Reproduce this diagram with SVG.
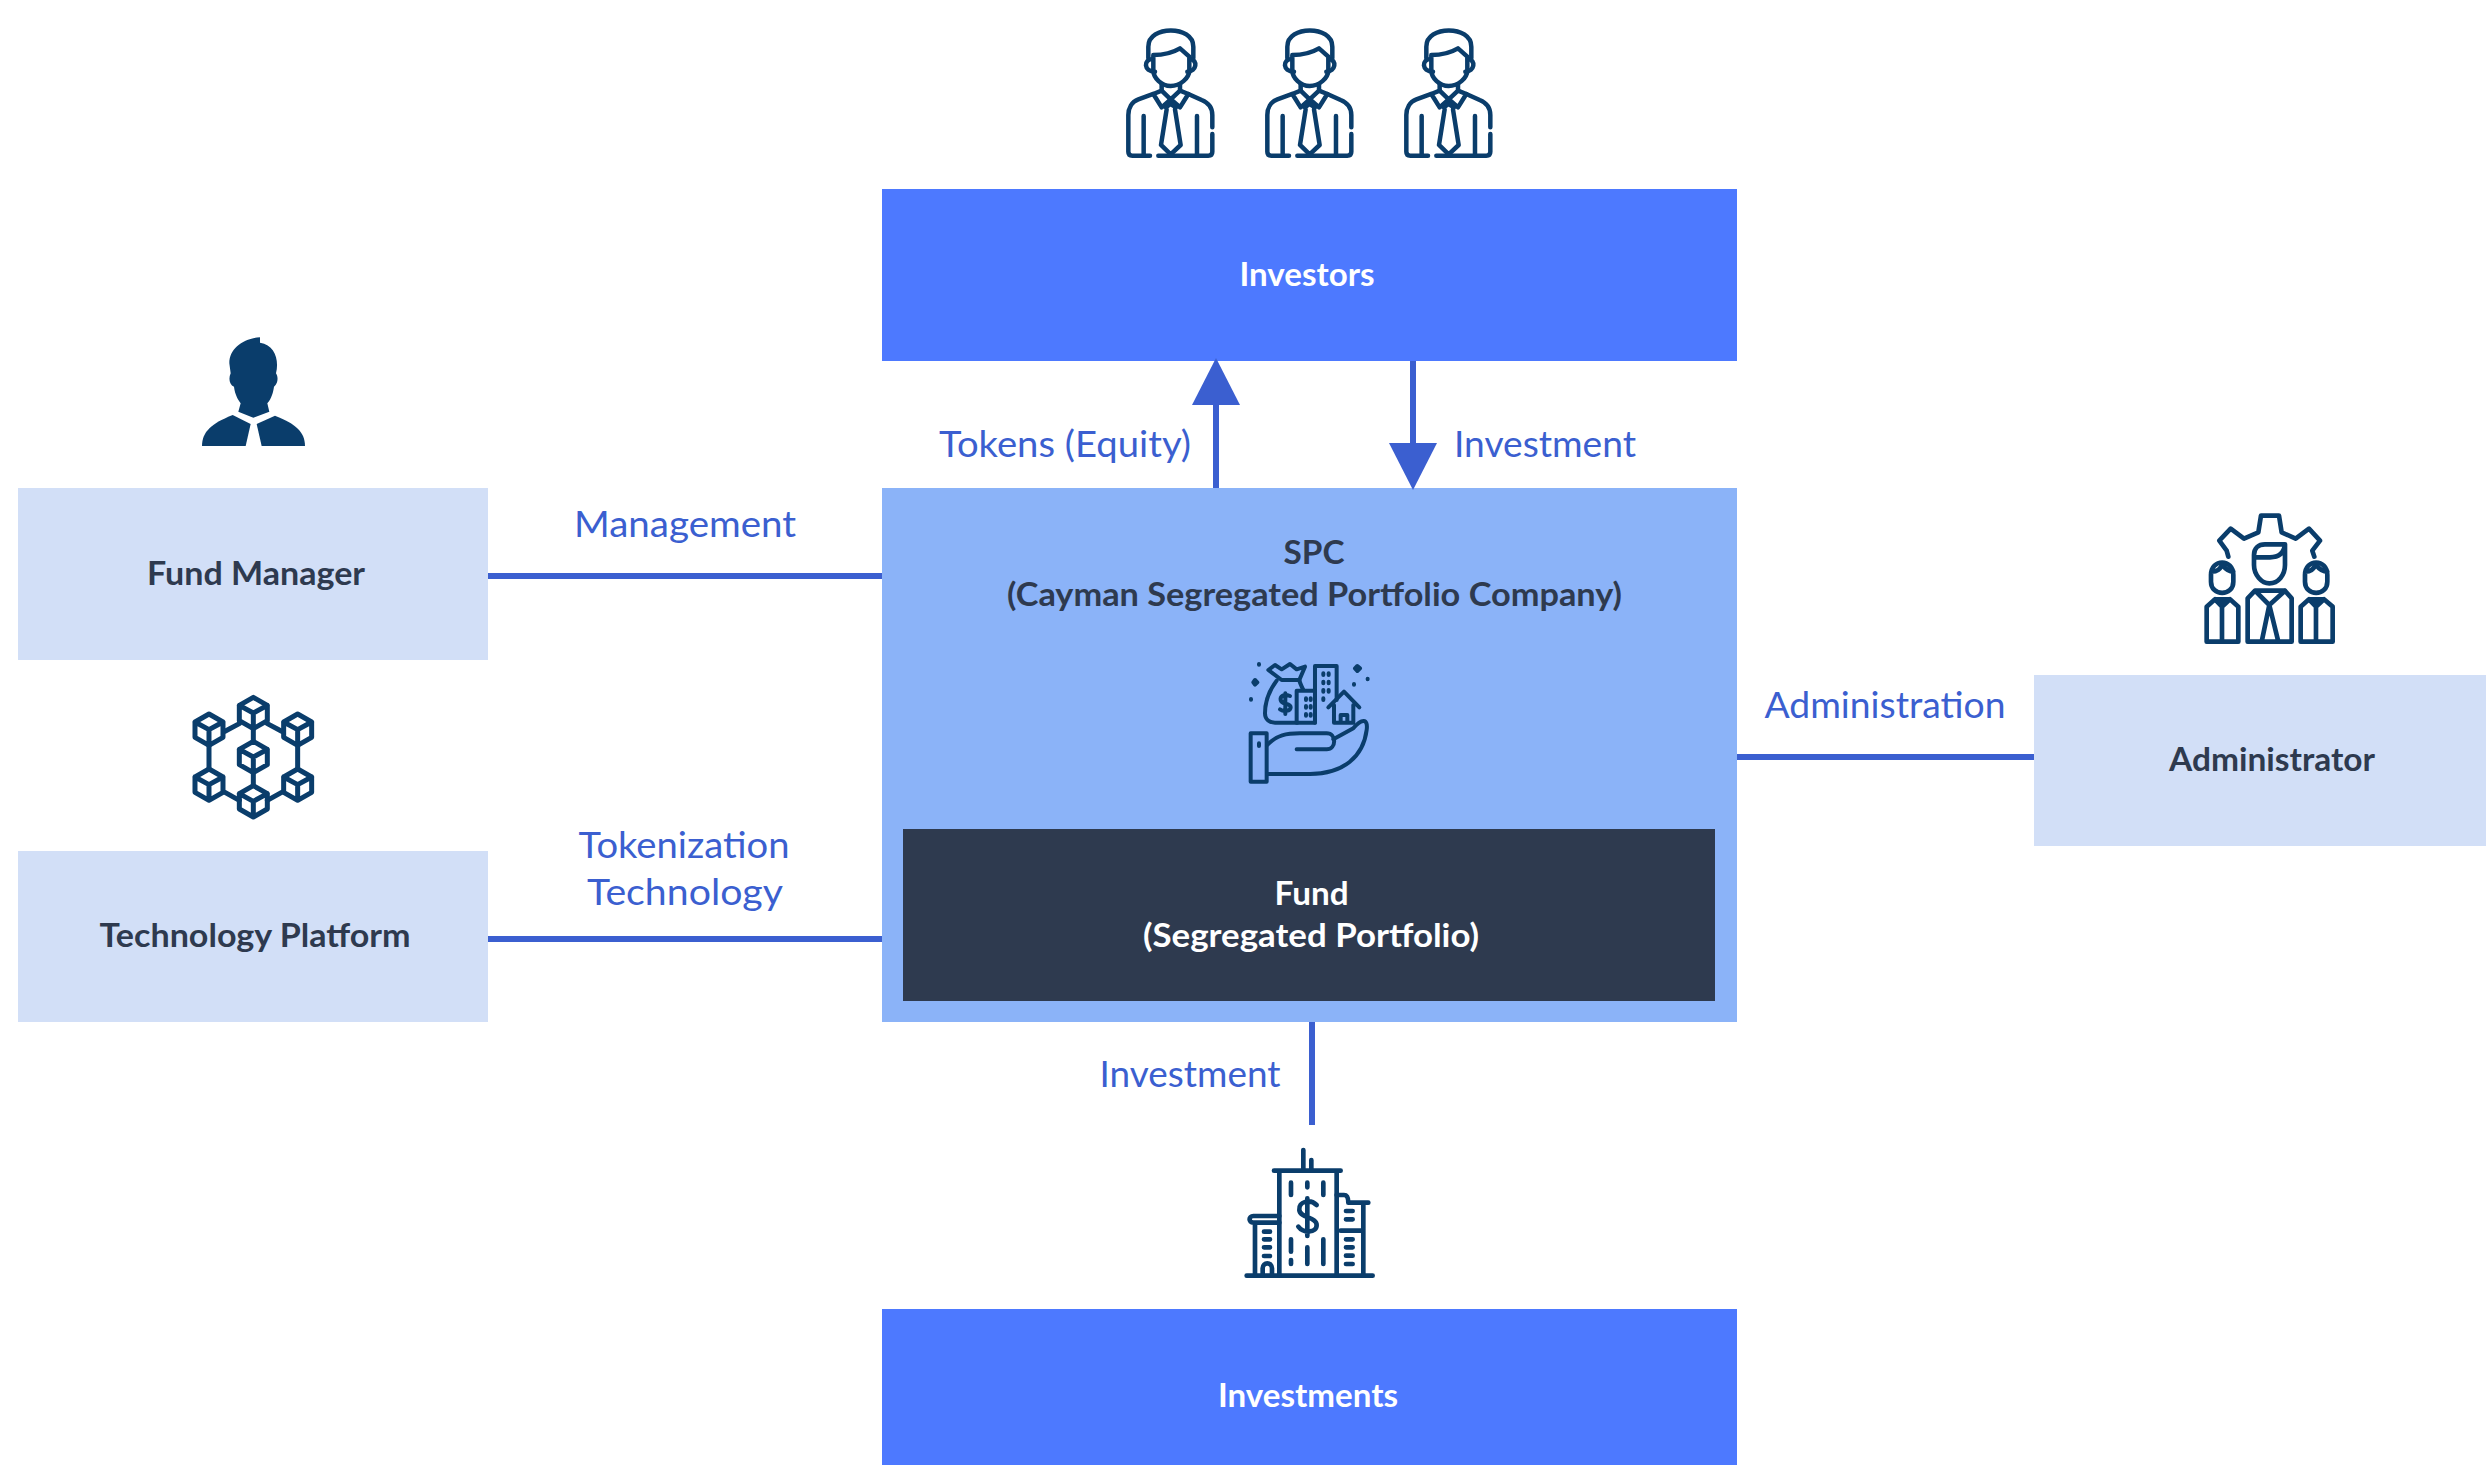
<svg xmlns="http://www.w3.org/2000/svg" width="2486" height="1465" viewBox="0 0 2486 1465">
<style>
.t{font-family:"Lato","Liberation Sans",sans-serif;text-anchor:middle}
.b{font-weight:700;font-size:32px;fill:#2e3a4f}
.l{font-size:37px;fill:#3b5fd0}
.c{stroke:#3b5fd0;stroke-width:6;fill:none}
.i{fill:none;stroke:#0a3d6b;stroke-width:13.5;stroke-linecap:round;stroke-linejoin:round}
</style>
<defs>
<g id="person">
<path d="M145,145V110C145,45 280,45 280,110V145"/>
<path d="M160,135C190,135 215,130 240,115L268,140V180C268,205 240,228 212,228C185,228 160,205 160,180Z"/>
<path d="M158,147C130,147 130,185 165,185M270,147C295,150 290,185 262,185"/>
<path d="M185,222V242L212,268L240,242V222"/>
<path d="M185,242L160,252L185,292L212,268L240,292L265,252L240,242"/>
<path d="M197,292L212,282L228,292M200,298L183,405L212,433L242,405L225,298"/>
<path d="M160,252L115,268C95,275 85,295 85,315V425Q85,437 97,437H150M175,437H325Q337,437 337,425V372M337,352V315C337,295 325,278 305,270L265,252"/>
<path d="M131,318V437M291,318V437"/>
</g>
<path id="cube" d="M0,-47L42,-23V23L0,47L-42,23V-23ZM-42,-23L0,0L42,-23M0,0V47"/>
</defs>
<g id="connectors">
<path class="c" d="M1216,405V488"/>
<path class="c" d="M1413,360V443"/>
<path class="c" d="M488,576H882"/>
<path class="c" d="M488,939H882"/>
<path class="c" d="M1737,757H2034"/>
<path class="c" d="M1312,1022V1125"/>
</g>
<g id="investors-icons" class="i">
<use href="#person" transform="translate(1100,10) scale(.3333)"/>
<use href="#person" transform="translate(1239,10) scale(.3333)"/>
<use href="#person" transform="translate(1378,10) scale(.3333)"/>
</g>
<g id="investors"><rect x="882" y="189" width="855" height="172" fill="#4d79ff"/><text class="t b" x="1307" y="286" textLength="135" lengthAdjust="spacingAndGlyphs" style="fill:#fff">Investors</text></g>
<g id="spc"><rect x="882" y="488" width="855" height="534" fill="#8bb3f8"/>
<text class="t b" x="1314" y="564" textLength="61" lengthAdjust="spacingAndGlyphs">SPC</text>
<text class="t b" x="1314.500" y="606" textLength="615" lengthAdjust="spacingAndGlyphs">(Cayman Segregated Portfolio Company)</text>
<g class="i" transform="translate(1220,650) scale(.3333)" style="stroke-width:12">
<path d="M185,90L145,60L165,45L185,58L210,42L230,58L255,50L238,90Z"/>
<path d="M170,92C145,125 135,160 135,190C135,210 150,218 165,218H232"/>
<path d="M238,90C240,100 245,110 250,120"/>
<path d="M230,122H285V218H230Z"/>
<path d="M285,48H350V150M285,48V218"/>
<path d="M258,145V150M272,145V150M258,168V173M272,168V173M258,192V197M272,192V197M310,70V75M326,70V75M310,95V100M326,95V100M310,120V125M326,120V125M310,145V150"/>
<path d="M325,172L372,125L418,172M342,165V218H400V165M362,218V195H382V218"/>
<path d="M210,138C190,130 180,140 182,150C185,165 212,158 212,172C212,185 190,185 180,178M196,130V192"/>
<path d="M117,42V44M100,97L105,90L112,97L105,104ZM405,55L412,48L420,55L412,63ZM93,147V149M402,102V104M443,86V88"/>
<path d="M92,250H140V395H92ZM117,280V288"/>
<path d="M142,285C170,255 200,250 240,250H320C350,250 350,298 320,298H230"/>
<path d="M340,268L400,235C425,205 445,205 440,240C430,320 370,372 270,372H142"/>
</g>
</g>
<g id="fund"><rect x="903" y="829" width="812" height="172" fill="#2e3a4f"/>
<text class="t b" x="1311.500" y="905" textLength="74" lengthAdjust="spacingAndGlyphs" style="fill:#fff">Fund</text>
<text class="t b" x="1311" y="947" textLength="336" lengthAdjust="spacingAndGlyphs" style="fill:#fff">(Segregated Portfolio)</text></g>
<g id="fund-manager"><rect x="18" y="488" width="470" height="172" fill="#d2dff7"/>
<text class="t b" x="256" y="585" textLength="218" lengthAdjust="spacingAndGlyphs">Fund Manager</text>
<g transform="translate(180,320) scale(.3333)" fill="#0a3d6b">
<path d="M240,52C190,55 148,85 148,130L152,160C145,175 148,195 162,200C165,225 175,240 182,250L175,275L220,293L268,275L262,250C275,235 280,215 282,200C295,190 295,170 288,160C298,120 285,75 240,68Z"/>
<path d="M158,285L212,312L197,378H66C66,335 95,310 158,285Z"/>
<path d="M285,287L230,312L245,378H375C375,335 345,310 285,287Z"/>
</g></g>
<g id="technology-platform"><rect x="18" y="851" width="470" height="171" fill="#d2dff7"/>
<text class="t b" x="255" y="947" textLength="311" lengthAdjust="spacingAndGlyphs">Technology Platform</text>
<g class="i" transform="translate(170,683) scale(.3333)" style="stroke-width:15">
<use href="#cube" x="250" y="90"/><use href="#cube" x="117" y="140"/><use href="#cube" x="383" y="140"/><use href="#cube" x="250" y="222"/><use href="#cube" x="117" y="305"/><use href="#cube" x="383" y="305"/><use href="#cube" x="250" y="355"/>
<path d="M117,187V258M383,187V258M165,145L208,122M292,122L335,145M165,328L208,352M292,352L335,328M250,137V175M250,269V308"/>
</g></g>
<g id="administrator"><rect x="2034" y="675" width="452" height="171" fill="#d2dff7"/>
<text class="t b" x="2272" y="771" textLength="206" lengthAdjust="spacingAndGlyphs">Administrator</text>
<g class="i" transform="translate(2180,500) scale(.3333)" style="stroke-width:14">
<path d="M145,170L140,152L118,122L152,86L192,116L235,97L243,47H297L305,97L347,116L387,86L420,122L397,152L403,170"/>
<path d="M222,165C222,145 235,133 255,133H315V195C315,225 295,250 268,250C245,250 222,225 222,195ZM222,172H270C295,172 312,160 315,133"/>
<path d="M93,225C93,175 160,175 160,225V245C160,290 93,290 93,245ZM95,215C115,215 120,205 127,195C135,205 145,215 160,215"/>
<path d="M375,225C375,175 442,175 442,225V245C442,290 375,290 375,245ZM377,215C395,215 400,205 408,195C416,205 425,215 442,215"/>
<path d="M80,425V320L105,298H150L175,320V425ZM126,310V425M105,298L126,320L150,298"/>
<path d="M362,425V320L387,298H432L458,320V425ZM408,310V425M387,298L408,320L432,298"/>
<path d="M203,425V295L225,272H315L335,295V425ZM225,272L268,315L315,272M268,315L245,425M268,315L295,425"/>
</g></g>
<g id="investments"><rect x="882" y="1309" width="855" height="156" fill="#4d79ff"/>
<text class="t b" x="1308" y="1407" textLength="180" lengthAdjust="spacingAndGlyphs" style="fill:#fff">Investments</text>
<g class="i" transform="translate(1220,1130) scale(.3333)" style="stroke-width:14">
<path d="M80,437H458"/>
<path d="M178,437V122M350,437V122M162,122H362M250,60V122M274,90V122"/>
<path d="M213,158V195M262,158V172M310,158V195M213,328V365M213,390V402M262,352V402M310,328V402"/>
<path d="M290,225C270,205 235,215 238,240C240,265 290,260 290,285C290,310 250,310 235,290M262,205V318"/>
<path d="M350,195H372Q385,195 385,218H445M430,218V437M362,302H430"/>
<path d="M378,243H398M378,268H398M378,328H398M378,352H398M378,377H398M378,402H398"/>
<path d="M178,258H100C85,258 85,278 100,278H178M105,278V437"/>
<path d="M132,305H150M132,328H150M132,352H150M132,378H150"/>
<path d="M128,437V415C128,395 156,395 156,415V437"/>
</g></g>
<g id="labels">
<path transform="translate(1216,358)" d="M-24,47L0,0L24,47Z" fill="#3b5fd0"/>
<path transform="translate(1413,490) scale(1,-1)" d="M-24,47L0,0L24,47Z" fill="#3b5fd0"/>
<text class="t l" x="1065" y="457" textLength="252" lengthAdjust="spacingAndGlyphs">Tokens (Equity)</text>
<text class="t l" x="1545" y="457" textLength="182" lengthAdjust="spacingAndGlyphs">Investment</text>
<text class="t l" x="685" y="537" textLength="222" lengthAdjust="spacingAndGlyphs">Management</text>
<text class="t l" x="1885" y="718" textLength="241" lengthAdjust="spacingAndGlyphs">Administration</text>
<text class="t l" x="684" y="858" textLength="211" lengthAdjust="spacingAndGlyphs">Tokenization</text>
<text class="t l" x="685" y="905" textLength="196" lengthAdjust="spacingAndGlyphs">Technology</text>
<text class="t l" x="1190" y="1087" textLength="181" lengthAdjust="spacingAndGlyphs">Investment</text>
</g>
</svg>
